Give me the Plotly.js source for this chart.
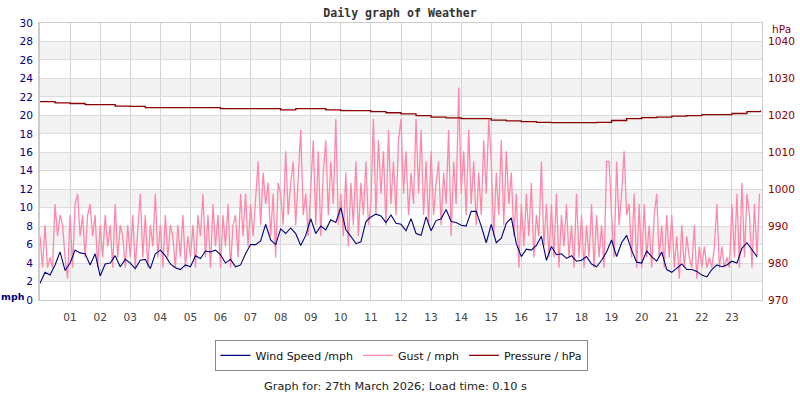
<!DOCTYPE html>
<html><head><meta charset="utf-8">
<script src="https://cdn.plot.ly/plotly-3.0.1.min.js"></script>
<style>html,body{margin:0;padding:0;background:#fff}#chart{width:800px;height:400px}</style>
</head><body><div id="chart"></div>
<script>
const hourTicks = [1,2,3,4,5,6,7,8,9,10,11,12,13,14,15,16,17,18,19,20,21,22,23];
const hourLabels = ["01","02","03","04","05","06","07","08","09","10","11","12","13","14","15","16","17","18","19","20","21","22","23"];

// Wind speed (mph), one reading every 10 minutes from 00:00
const windSpeed = [
  1.8,3.0,2.7,3.8,5.2,3.2,
  4.0,5.4,5.1,5.0,3.8,5.0,
  2.6,3.9,4.0,4.8,3.6,4.4,
  4.0,3.4,4.3,4.4,3.4,5.0,
  5.4,4.8,3.9,3.5,3.3,3.8,
  3.6,4.8,4.5,5.3,5.2,5.4,
  4.9,4.0,4.4,3.6,3.8,5.0,
  6.0,6.0,6.4,8.2,6.5,6.0,
  7.7,7.2,7.8,7.2,5.9,7.0,
  8.8,7.2,8.0,7.6,8.7,8.4,
  10.0,7.6,6.9,6.1,6.3,8.5,
  9.0,9.3,9.1,8.4,9.2,8.3,
  8.2,7.5,8.8,7.2,7.0,9.0,
  7.5,8.6,8.8,9.8,8.5,8.4,
  8.1,8.0,9.6,9.6,8.0,6.2,
  8.2,6.2,6.7,8.3,8.9,6.1,
  4.7,5.5,5.4,5.9,6.9,4.3,
  5.8,4.9,5.0,4.5,4.8,4.2,
  4.3,4.7,3.9,3.6,4.3,5.2,
  6.5,4.7,6.2,7.0,5.4,4.1,
  4.0,5.3,4.7,4.2,5.2,3.3,
  3.0,3.4,3.9,3.3,3.3,3.1,
  2.7,2.5,3.3,3.8,3.6,3.8,
  4.2,4.0,5.6,6.2,5.5,4.7
];

// Gust (mph), one reading every 5 minutes from 00:00
const gust = [
  6.9,3.5,8.1,3.5,4.6,3.5,10.4,6.9,9.2,8.1,4.6,2.3,
  9.2,3.5,10.4,11.5,6.9,9.2,4.6,9.2,10.4,6.9,9.2,3.5,
  8.1,4.6,9.2,5.8,8.1,3.5,10.4,4.6,8.1,6.9,3.5,8.1,
  4.6,9.2,3.5,8.1,11.5,4.6,9.2,3.5,8.1,5.8,11.5,4.6,
  8.1,3.5,9.2,4.6,8.1,6.9,3.5,8.1,4.6,9.2,3.5,6.9,
  4.6,8.1,3.5,9.2,6.9,11.5,4.6,9.2,3.5,10.4,5.8,9.2,
  3.5,9.2,5.8,10.4,3.5,8.1,9.2,4.6,11.5,6.9,11.5,5.8,
  10.4,6.9,11.5,15.0,8.1,13.8,10.4,12.7,6.9,11.5,4.6,12.7,
  11.5,8.1,16.1,9.2,12.7,15.0,8.1,13.8,18.4,9.2,11.5,6.9,
  12.7,17.3,8.1,16.1,6.9,13.8,17.3,9.2,15.0,10.4,19.6,8.1,
  11.5,6.9,13.8,5.8,12.7,8.1,15.0,6.9,12.7,9.2,15.0,8.1,
  10.4,19.6,9.2,17.3,11.5,16.1,8.1,18.4,10.4,15.0,9.2,17.3,
  19.6,11.5,16.1,9.2,13.8,10.4,19.6,11.5,18.4,9.2,15.0,8.1,
  16.1,9.2,12.7,15.0,8.1,13.8,10.4,18.4,6.9,15.0,10.4,23.0,
  11.5,16.1,9.2,18.4,10.4,15.0,8.1,13.8,9.2,17.3,11.5,19.6,
  15.0,6.9,13.8,9.2,17.3,8.1,16.1,10.4,13.8,6.9,11.5,3.5,
  10.4,5.8,11.5,6.9,12.7,4.6,9.2,6.9,15.0,5.8,10.4,4.6,
  10.4,4.6,11.5,3.5,9.2,5.8,10.4,4.6,8.1,3.5,11.5,4.6,
  9.2,3.5,8.1,4.6,10.4,3.5,9.2,4.6,8.1,3.5,15.0,15.0,
  9.2,4.6,15.0,8.1,11.5,16.1,9.2,10.4,4.6,11.5,3.5,10.4,
  3.5,10.4,4.6,8.1,3.5,9.2,11.5,4.6,8.1,3.5,9.2,4.6,
  9.2,3.5,6.9,2.3,8.1,3.5,6.9,4.6,3.5,8.1,2.3,5.8,
  3.5,5.8,3.5,4.6,3.5,5.8,10.4,3.5,5.8,3.5,4.6,3.5,
  10.4,4.6,11.5,3.5,12.7,4.6,11.5,9.2,3.5,10.4,4.6,11.5
];

// Pressure (hPa)
const pressureHours = [0,0.5,1,1.5,2,2.5,3,3.5,4,4.5,5,5.5,6,6.5,7,7.5,8,8.5,9,9.5,10,10.5,11,11.5,12,12.5,13,13.5,14,14.5,15,15.5,16,16.5,17,17.5,18,18.5,19,19.5,20,20.5,21,21.5,22,22.5,23,23.5,23.95];
const pressure = [1023.7,1023.4,1023.2,1022.9,1022.9,1022.5,1022.4,1022.1,1022.1,1022.1,1022.1,1022.1,1021.8,1021.8,1021.8,1021.8,1021.5,1021.8,1021.8,1021.5,1021.3,1021.3,1021.0,1020.7,1020.4,1019.9,1019.5,1019.3,1019.1,1019.1,1018.7,1018.5,1018.3,1018.1,1018.0,1018.0,1018.0,1018.1,1018.6,1019.1,1019.4,1019.5,1019.8,1019.9,1020.2,1020.2,1020.5,1021.0,1021.3];

const windX = windSpeed.map((_, i) => i / 6);
const gustX = gust.map((_, i) => i / 12);

const traces = [
  {x: gustX, y: gust, type: 'scatter', mode: 'lines', name: 'Gust / mph',
   line: {color: '#ff88aa', width: 1.3}, legendrank: 2, hoverinfo: 'skip'},
  {x: windX, y: windSpeed, type: 'scatter', mode: 'lines', name: 'Wind Speed /mph',
   line: {color: '#000080', width: 1.1}, legendrank: 1, hoverinfo: 'skip'},
  {x: pressureHours, y: pressure, type: 'scatter', mode: 'lines', name: 'Pressure / hPa',
   yaxis: 'y2', line: {color: '#8b0000', width: 1.3, shape: 'hv'}, legendrank: 3, hoverinfo: 'skip'}
];

const bands = [];
for (let v = 2; v < 30; v += 4) {
  bands.push({type: 'rect', xref: 'paper', yref: 'y', x0: 0, x1: 1, y0: v, y1: v + 2,
    fillcolor: '#f3f3f3', line: {width: 0}, layer: 'below'});
}

const F = 'DejaVu Sans, Verdana, sans-serif';
const layout = {
  width: 800, height: 400,
  margin: {l: 40, r: 38, t: 23, b: 100},
  paper_bgcolor: '#ffffff', plot_bgcolor: '#ffffff',
  title: {text: 'Daily graph of Weather', x: 0.5, xanchor: 'center', y: 0.968, yanchor: 'middle',
    font: {family: 'DejaVu Sans Mono, monospace', size: 11.6, weight: 'bold', color: '#333333'}},
  xaxis: {range: [0, 24], tickvals: hourTicks, ticktext: hourLabels, showgrid: true, gridcolor: '#d4d4d4',
    zeroline: false, showline: true, linecolor: '#cccccc', mirror: true, linewidth: 1, ticks: '',
    ticklabelstandoff: 7, tickfont: {family: F, size: 10.6, color: '#444444'}, fixedrange: true},
  yaxis: {range: [0, 30], tick0: 0, dtick: 2, showgrid: true, gridcolor: '#dcdcdc', zeroline: false,
    showline: true, linecolor: '#cccccc', linewidth: 2, ticks: '', ticklabelstandoff: 3,
    tickfont: {family: F, size: 10.6, color: '#000080'}, fixedrange: true},
  yaxis2: {range: [970, 1045], tick0: 970, dtick: 10, overlaying: 'y', side: 'right', showgrid: false,
    zeroline: false, showline: true, linecolor: '#cccccc', linewidth: 1, ticks: '', ticklabelstandoff: 3,
    tickfont: {family: F, size: 10.6, color: '#8b0000'}, fixedrange: true},
  shapes: bands,
  showlegend: true,
  legend: {orientation: 'h', x: 0.5, xanchor: 'center', y: -0.144, yanchor: 'top',
    bordercolor: '#888888', borderwidth: 1, bgcolor: '#ffffff', itemwidth: 30,
    font: {family: F, size: 11, color: '#111111'}},
  annotations: [
    {text: 'mph', xref: 'paper', yref: 'paper', x: -0.0374, y: 0.0144, xanchor: 'center', yanchor: 'middle',
     showarrow: false, font: {family: F, size: 9.5, weight: 'bold', color: '#000080'}},
    {text: 'hPa', xref: 'paper', yref: 'paper', x: 1.0277, y: 0.978, xanchor: 'center', yanchor: 'middle',
     showarrow: false, font: {family: F, size: 10.6, color: '#8b0000'}},
    {text: 'Graph for: 27th March 2026; Load time: 0.10 s', xref: 'paper', yref: 'paper', x: 0.493, y: -0.314,
     xanchor: 'center', yanchor: 'middle', showarrow: false, font: {family: F, size: 11.3, color: '#222222'}}
  ]
};

Plotly.newPlot('chart', traces, layout, {displayModeBar: false, staticPlot: true});
</script>
</body></html>
